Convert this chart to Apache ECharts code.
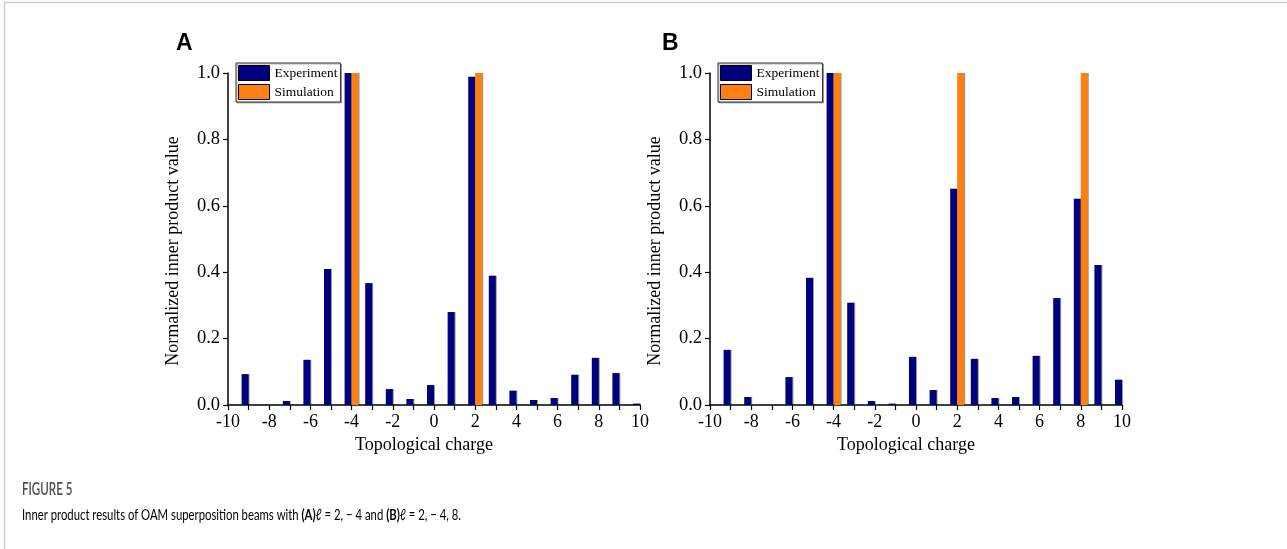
<!DOCTYPE html>
<html>
<head>
<meta charset="utf-8">
<script src="https://cdn.jsdelivr.net/npm/echarts@6/dist/echarts.min.js"></script>
<style>
html,body{margin:0;padding:0;background:#fff;}
#chart{width:1287px;height:549px;}
</style>
</head>
<body>
<div id="chart"></div>
<script>
// ---- data ----
const categories = ['-10','-9','-8','-7','-6','-5','-4','-3','-2','-1','0','1','2','3','4','5','6','7','8','9','10'];
const expA = [0, 0.093, 0, 0.012, 0.136, 0.41, 1.0, 0.367, 0.048, 0.018, 0.06, 0.28, 0.989, 0.389, 0.043, 0.015, 0.021, 0.091, 0.142, 0.096, 0.004];
const simA = [0, 0, 0, 0, 0, 0, 1, 0, 0, 0, 0, 0, 1, 0, 0, 0, 0, 0, 0, 0, 0];
const expB = [0, 0.166, 0.024, 0, 0.084, 0.383, 1.0, 0.308, 0.012, 0.004, 0.145, 0.045, 0.651, 0.139, 0.021, 0.024, 0.148, 0.322, 0.621, 0.422, 0.076];
const simB = [0, 0, 0, 0, 0, 0, 1, 0, 0, 0, 0, 0, 1, 0, 0, 0, 0, 0, 1, 0, 0];
const seriesNames = ['Experiment', 'Simulation'];
const xName = 'Topological charge';
const yName = 'Normalized inner product value';
const panelLabels = ['A', 'B'];
const figTitle = 'FIGURE 5';
const captionParts = ['Inner product results of OAM superposition beams with ', '(A)', 'ℓ = 2, − 4 and ', '(B)', 'ℓ = 2, − 4, 8.'];

// ---- styles ----
const serif = 'Liberation Serif, Times New Roman, serif';
const navy = '#00007e';
const orange = '#ff8012';

const grids = [
  {left: 228, top: 73, width: 412, height: 332},
  {left: 710, top: 73, width: 412, height: 332}
];

function xAxis(i) {
  return {
    type: 'category', gridIndex: i, data: categories, boundaryGap: false,
    axisLine: {lineStyle: {color: '#000', width: 1.5}},
    axisTick: {interval: 0, length: 5, lineStyle: {color: '#000', width: 1.2}},
    axisLabel: {interval: 1, color: '#000', fontFamily: serif, fontSize: 18, margin: 8},
    splitLine: {show: false},
    name: xName, nameLocation: 'middle', nameGap: 24,
    nameTextStyle: {color: '#000', fontFamily: serif, fontSize: 18, padding: [0, 20, 0, 0]}
  };
}
function yAxis(i) {
  return {
    type: 'value', gridIndex: i, min: 0, max: 1, interval: 0.2,
    axisLine: {show: true, lineStyle: {color: '#000', width: 1.5}},
    axisTick: {show: true, length: 5, lineStyle: {color: '#000', width: 1.2}},
    axisLabel: {color: '#000', fontFamily: serif, fontSize: 18.5, margin: 8,
      formatter: v => v.toFixed(1)},
    splitLine: {show: false},
    name: yName, nameLocation: 'middle', nameGap: 46,
    nameTextStyle: {color: '#000', fontFamily: serif, fontSize: 18, padding: [0, 24, 0, 0]}
  };
}
function barSeries(name, data, i, color) {
  return {
    type: 'bar', name: name, data: data, xAxisIndex: i, yAxisIndex: i,
    barWidth: 7, barGap: '0%',
    itemStyle: {color: color, shadowColor: 'rgba(0,0,0,0.4)', shadowOffsetX: 1, shadowBlur: 0},
    emphasis: {disabled: true},
    animation: false
  };
}
function legend(left) {
  return {
    data: seriesNames, orient: 'vertical', left: left, top: 63,
    itemWidth: 31, itemHeight: 15, itemGap: 3, icon: 'rect',
    padding: [2, 3, 2, 2],
    backgroundColor: '#fff', borderColor: '#333', borderWidth: 1,
    shadowColor: 'rgba(0,0,0,0.3)', shadowOffsetX: 1, shadowOffsetY: 1,
    itemStyle: {borderColor: '#000', borderWidth: 1},
    textStyle: {color: '#000', fontFamily: serif, fontSize: 13.5}
  };
}

const capFont = 'Lato, Open Sans, sans-serif';
const chart = echarts.init(document.getElementById('chart'), null, {renderer: 'canvas'});
chart.setOption({
  animation: false,
  backgroundColor: '#fff',
  grid: grids,
  xAxis: [xAxis(0), xAxis(1)],
  yAxis: [yAxis(0), yAxis(1)],
  legend: [legend(236), legend(718)],
  series: [
    barSeries(seriesNames[0], expA, 0, navy),
    barSeries(seriesNames[1], simA, 0, orange),
    barSeries(seriesNames[0], expB, 1, navy),
    barSeries(seriesNames[1], simB, 1, orange)
  ],
  graphic: [
    {type: 'polyline', shape: {points: [[4.5, 549], [4.5, 2.5], [1287, 2.5]]},
      style: {stroke: '#cfcfcf', lineWidth: 1.5, fill: null}, silent: true},
    {type: 'text', left: 176, top: 32, style: {text: panelLabels[0], font: 'bold 23px Liberation Sans, Arial, sans-serif', fill: '#000'}},
    {type: 'text', left: 662, top: 32, style: {text: panelLabels[1], font: 'bold 23px Liberation Sans, Arial, sans-serif', fill: '#000'}},
    {type: 'text', x: 22, y: 481, scaleX: 0.68, style: {text: figTitle, font: '600 17px ' + capFont, fill: '#4d4d4d', textVerticalAlign: 'top'}},
    {type: 'text', x: 22, y: 507, scaleX: 0.73, style: {
      text: '{n|' + captionParts[0] + '}{b|' + captionParts[1] + '}{n|' + captionParts[2] + '}{b|' + captionParts[3] + '}{n|' + captionParts[4] + '}',
      textVerticalAlign: 'top',
      rich: {
        n: {fontFamily: capFont, fontSize: 15.5, color: '#737373'},
        b: {fontFamily: capFont, fontSize: 15.5, fontWeight: 'bold', color: '#555'}
      }
    }}
  ]
});
</script>
</body>
</html>
